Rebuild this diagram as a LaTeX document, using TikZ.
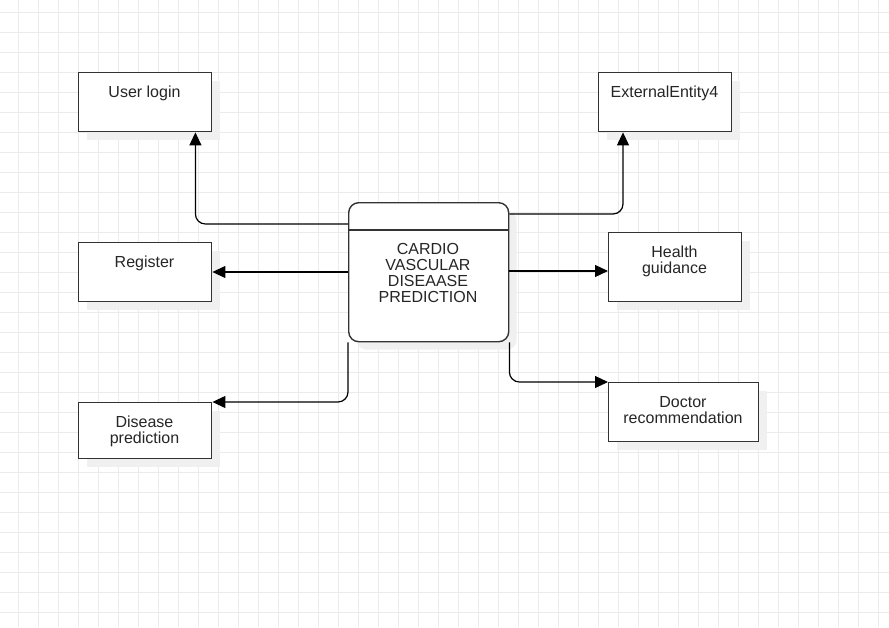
\documentclass[tikz,border=0pt]{standalone}
\usepackage{fontspec}
\setmainfont{Liberation Sans}
\usetikzlibrary{arrows.meta,shadows}
\definecolor{gridgray}{HTML}{EBEBEB}
\definecolor{edgegray}{HTML}{333333}
\definecolor{shadowgray}{HTML}{F0F0F0}
\tikzset{
  gridline/.style={draw=gridgray, line width=1pt},
  entity/.style={draw=edgegray, line width=1.4pt, fill=white, rectangle,
    inner sep=0pt, anchor=north west,
    general shadow={fill=shadowgray, shadow xshift=8pt, shadow yshift=-8pt}},
  process/.style={entity, rounded corners=10pt},
  lbl/.style={font=\fontsize{16}{16}\selectfont, text=black!85, align=center,
    anchor=base, inner sep=0pt},
  conn/.style={draw=black, line width=1.2pt, rounded corners=10pt,
    -{Triangle[length=13pt,width=12pt]}},
}
\begin{document}
\begin{tikzpicture}[x=1pt,y=-1pt]
  % canvas and background grid
  \fill[white] (0,0) rectangle (889,627);
  \useasboundingbox (0,0) rectangle (889,627);
  \foreach \gx in {18,38,...,878} \draw[gridline] (\gx,0) -- (\gx,627);
  \foreach \gy in {12,32,...,612} \draw[gridline] (0,\gy) -- (889,\gy);

  % external entities (multi-line labels are placed by the baseline of their last line)
  \node[entity, minimum width=133pt, minimum height=59pt] (login) at (78,72) {};
  \node[lbl] (loginT) at (144.5,97) {User login};
  \node[entity, minimum width=133pt, minimum height=59pt] (ext) at (598,72) {};
  \node[lbl] (extT) at (664.5,97) {ExternalEntity4};
  \node[entity, minimum width=133pt, minimum height=59pt] (reg) at (78,242) {};
  \node[lbl] (regT) at (144.5,267) {Register};
  \node[entity, minimum width=133pt, minimum height=69pt] (health) at (608,232) {};
  \node[lbl] (healthT) at (674.5,273) {Health\\guidance};
  \node[entity, minimum width=133pt, minimum height=56pt] (dis) at (78,402) {};
  \node[lbl] (disT) at (144.5,443) {Disease\\prediction};
  \node[entity, minimum width=150pt, minimum height=59pt] (doc) at (608,382) {};
  \node[lbl] (docT) at (683,423) {Doctor\\recommendation};

  % central process
  \node[process, minimum width=160pt, minimum height=139pt] (proc) at (348,202) {};
  \draw[draw=edgegray, line width=1.4pt] ([yshift=-28pt]proc.north west) -- ([yshift=-28pt]proc.north east);
  \node[lbl] (procT) at (428,302) {CARDIO\\VASCULAR\\DISEAASE\\PREDICTION};

  % data flows
  \draw[conn] ([yshift=-22pt]proc.north west) -| ([xshift=-17pt]login.south east);
  \draw[conn] ([yshift=-12pt]proc.north east) -| ([xshift=25pt]ext.south west);
  \draw[conn] ([yshift=-70pt]proc.north west) -- (reg.east |- 0,272);
  \draw[conn] ([yshift=-69pt]proc.north east) -- (health.west |- 0,271);
  \draw[conn] (proc.south west) |- (dis.north east);
  \draw[conn] (proc.south east) |- (doc.north west);
\end{tikzpicture}
\end{document}
